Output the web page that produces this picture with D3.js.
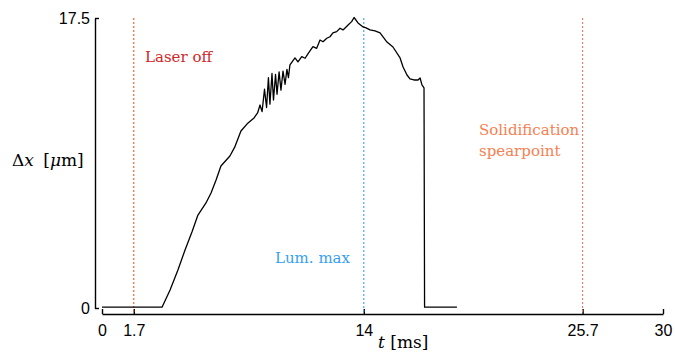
<!DOCTYPE html>
<html>
<head>
<meta charset="utf-8">
<script src="https://cdn.jsdelivr.net/npm/d3@7/dist/d3.min.js"></script>
<style>
  html, body { margin: 0; padding: 0; background: #fff; }
  svg { display: block; }
  .serif { font-family: "DejaVu Serif", serif; }
</style>
</head>
<body>
<svg id="chart" width="675" height="360"></svg>
<script>
// ---- data ----
const tValues = [0, 3.21, 3.64, 4.06, 4.44, 4.81, 5.13, 5.56, 5.83, 6.10, 6.36, 6.84, 7.09, 7.43, 7.81, 8.13, 8.32, 8.45,
  8.56, 8.69, 8.80, 8.90, 8.98, 9.09, 9.17, 9.28, 9.36, 9.47, 9.57, 9.68, 9.79, 9.89, 9.97, 10.05,
  10.32, 10.48, 10.68, 10.86, 11.03, 11.28, 11.48, 11.66, 11.82, 12.02, 12.19, 12.35, 12.55, 12.73, 12.89, 13.16, 13.35, 13.48,
  13.69, 13.96, 14.12, 14.33, 14.60, 14.87, 15.24, 15.56, 15.94, 16.10, 16.31, 16.47, 16.68, 16.90, 17.01, 17.11, 17.22, 17.25, 18.98];
const dxValues = [0.05, 0.05, 1.09, 2.29, 3.50, 4.59, 5.61, 6.34, 6.94, 7.72, 8.57, 9.17, 9.69, 10.68, 11.17, 11.47, 11.77, 12.25,
  11.85, 13.20, 12.10, 13.90, 12.30, 14.15, 12.55, 14.10, 12.90, 14.25, 13.15, 14.30, 13.50, 14.40, 13.90, 14.67,
  15.09, 14.85, 15.17, 15.07, 15.37, 15.77, 15.67, 16.17, 16.07, 16.28, 16.37, 16.60, 16.68, 16.88, 16.78, 17.08, 17.28, 17.53,
  17.20, 16.96, 16.90, 16.78, 16.72, 16.60, 16.05, 15.75, 15.09, 14.54, 14.06, 13.82, 13.76, 13.76, 13.88, 13.46, 13.28, 0.05, 0.05];

const xTicks = [0, 1.7, 14, 25.7, 30];
const xTickLabels = ["0", "1.7", "14", "25.7", "30"];
const yTicks = [0, 17.5];
const yTickLabels = ["0", "17.5"];

const markerTimes = [1.7, 14, 25.7];
const markerColors = ["#ee5a2a", "#3a9be8", "#ee7a5a"];
const labelLines = [["Laser off"], ["Lum. max"], ["Solidification", "spearpoint"]];
const labelColors = ["#d02828", "#36a0f0", "#f57f52"];

// ---- layout ----
const svg = d3.select("#chart");
const x = d3.scaleLinear().domain([0, 30]).range([102, 663]);
const y = d3.scaleLinear().domain([0, 17.5]).range([308, 18]);

const sans = "'Liberation Sans', Arial, sans-serif";

const xAxis = d3.axisBottom(x).tickValues(xTicks)
  .tickFormat((d, i) => xTickLabels[i]).tickSizeInner(-5).tickSizeOuter(0).tickPadding(11);
const gx = svg.append("g").attr("transform", "translate(0,314)").call(xAxis);

const yAxis = d3.axisLeft(y).tickValues(yTicks)
  .tickFormat((d, i) => yTickLabels[i]).tickSizeInner(-4).tickSizeOuter(0).tickPadding(5);
const gy = svg.append("g").attr("transform", "translate(95,0)").call(yAxis);

[gx, gy].forEach(g => {
  g.select(".domain").attr("stroke", "#000").attr("stroke-width", 1.4);
  g.selectAll(".tick line").attr("stroke", "#000").attr("stroke-width", 1.4);
  g.selectAll(".tick text").attr("fill", "#000").style("font-family", sans).style("font-size", "16px");
});

svg.append("g").selectAll("line").data(markerTimes).join("line")
  .attr("x1", d => x(d)).attr("x2", d => x(d))
  .attr("y1", y(17.5)).attr("y2", 313)
  .attr("stroke", (d, i) => markerColors[i])
  .attr("stroke-width", 1.1)
  .attr("stroke-dasharray", "2,2");

const pts = tValues.map((t, i) => [t, dxValues[i]]);
svg.append("path").datum(pts)
  .attr("fill", "none").attr("stroke", "#000").attr("stroke-width", 1.3)
  .attr("stroke-linejoin", "round")
  .attr("d", d3.line().x(d => x(d[0])).y(d => y(d[1])));

const labelPos = [[145, 62], [275, 263], [479, 135]];
labelLines.forEach((lines, i) => {
  const txt = svg.append("text")
    .attr("class", "serif")
    .attr("x", labelPos[i][0]).attr("y", labelPos[i][1])
    .attr("fill", labelColors[i])
    .style("font-size", "15px");
  lines.forEach((ln, j) => {
    txt.append("tspan").attr("x", labelPos[i][0]).attr("dy", j === 0 ? 0 : 20.5).text(ln);
  });
});

const yl = svg.append("text").attr("class", "serif").attr("x", 12).attr("y", 166)
  .style("font-size", "17px").attr("fill", "#000");
yl.append("tspan").text("Δ");
yl.append("tspan").style("font-style", "italic").text("x");
yl.append("tspan").attr("dx", 4).text(" [");
yl.append("tspan").style("font-style", "italic").text("μ");
yl.append("tspan").text("m]");

const xl = svg.append("text").attr("class", "serif").attr("x", 378).attr("y", 348)
  .style("font-size", "17px").attr("fill", "#000");
xl.append("tspan").style("font-style", "italic").text("t");
xl.append("tspan").text(" [ms]");
</script>
</body>
</html>
